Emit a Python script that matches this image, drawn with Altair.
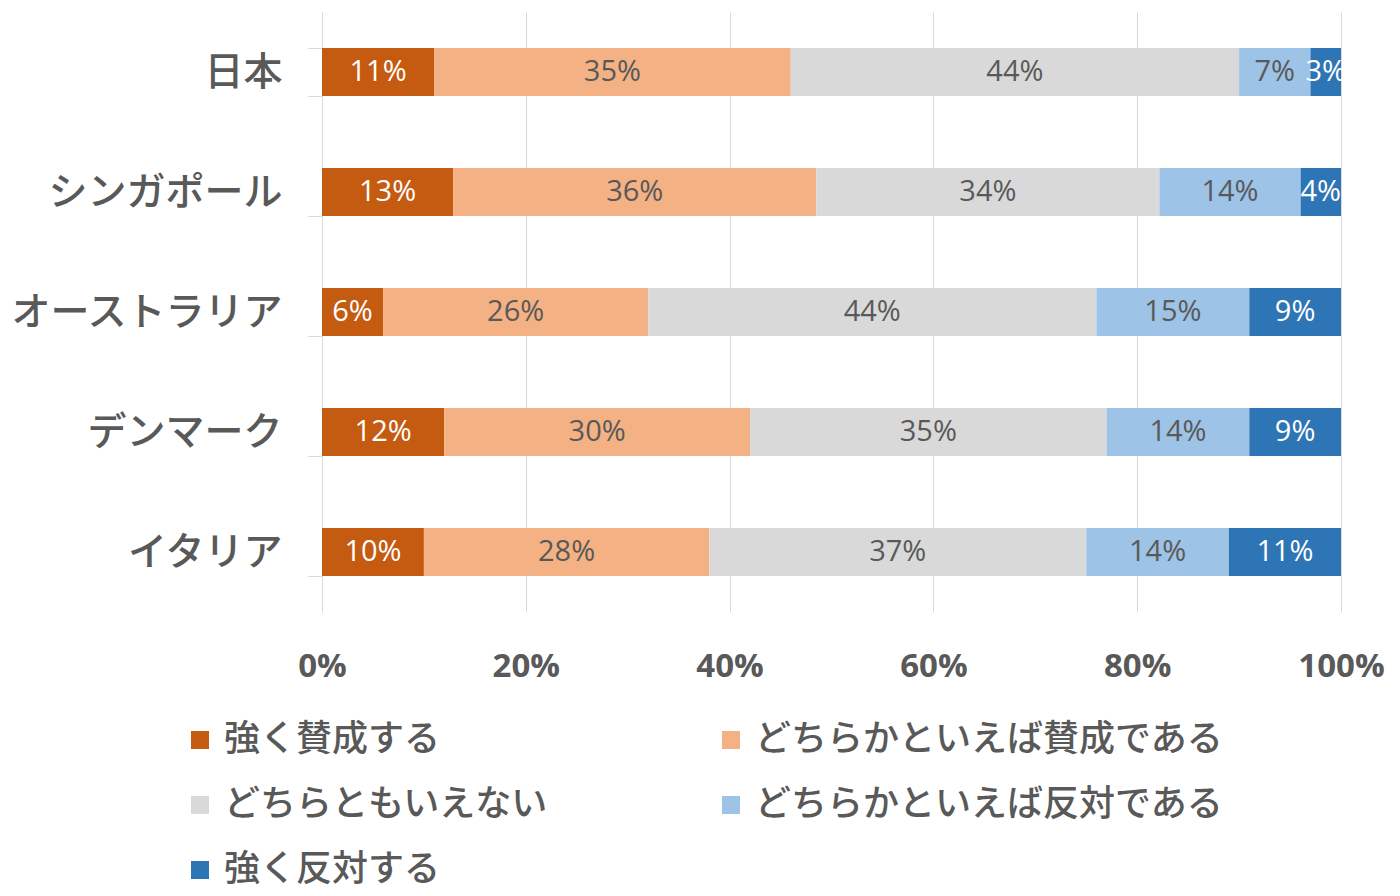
import altair as alt
import pandas as pd

countries = ["日本", "シンガポール", "オーストラリア", "デンマーク", "イタリア"]
categories = ["強く賛成する", "どちらかといえば賛成である", "どちらともいえない",
              "どちらかといえば反対である", "強く反対する"]
colors = ["#C55A11", "#F4B183", "#D9D9D9", "#9DC3E6", "#2E75B6"]
legend_order = ["強く賛成する", "どちらともいえない", "強く反対する",
                "どちらかといえば賛成である", "どちらかといえば反対である"]

values = {
    "日本": [11, 35, 44, 7, 3],
    "シンガポール": [13, 36, 34, 14, 4],
    "オーストラリア": [6, 26, 44, 15, 9],
    "デンマーク": [12, 30, 35, 14, 9],
    "イタリア": [10, 28, 37, 14, 11],
}

rows = []
for c in countries:
    for i, cat in enumerate(categories):
        rows.append({"country": c, "cat": cat, "order": i, "value": values[c][i]})
df = pd.DataFrame(rows)

JP = "Noto Sans CJK JP"
GRAY = "#595959"

base = alt.Chart(df).transform_stack(
    stack="value", as_=["x0", "x1"], groupby=["country"],
    sort=[alt.SortField("order", order="ascending")], offset="normalize"
).transform_calculate(mid="(datum.x0 + datum.x1) / 2", label="datum.value + '%'")

y_scale = alt.Scale(paddingInner=0.6, paddingOuter=0.3)

bars = base.mark_bar().encode(
    x=alt.X("x0:Q", title=None, scale=alt.Scale(domain=[0, 1]),
            axis=alt.Axis(format="%", values=[0, 0.2, 0.4, 0.6, 0.8, 1.0], grid=True,
                          gridColor="#D9D9D9", domain=False, ticks=False, labelFlush=False,
                          labelFont="Open Sans", labelFontWeight="bold", labelFontSize=33,
                          labelColor=GRAY, labelPadding=38)),
    x2="x1:Q",
    y=alt.Y("country:N", sort=countries, title=None, scale=y_scale,
            axis=alt.Axis(labelFont=JP, labelFontSize=39, labelFontWeight=500,
                          labelColor=GRAY, labelLimit=400,
                          labelPadding=26, domainColor="#D9D9D9", tickColor="#D9D9D9",
                          tickSize=14, tickBand="extent", grid=False)),
    color=alt.Color("cat:N", sort=categories, title=None,
                    scale=alt.Scale(domain=categories, range=colors),
                    legend=alt.Legend(orient="none", legendX=-140, legendY=710, columns=2,
                                      values=legend_order,
                                      columnPadding=164, rowPadding=29,
                                      labelFont=JP, labelFontSize=36, labelFontWeight=500,
                                      labelColor=GRAY,
                                      symbolType="square", symbolSize=324, symbolStrokeWidth=0,
                                      labelOffset=6, labelLimit=600)),
)

texts = base.mark_text(font="Open Sans", fontSize=29, baseline="middle").encode(
    x="mid:Q",
    y=alt.Y("country:N", sort=countries),
    text="label:N",
    color=alt.condition("datum.order == 0 || datum.order == 4",
                        alt.value("white"), alt.value(GRAY)),
)

chart = alt.layer(bars, texts).properties(
    width=1019, height=600,
    autosize=alt.AutoSizeParams(type="none"),
    padding={"left": 322, "top": 12, "right": 59, "bottom": 284},
    background="white",
).configure_view(stroke=None)

chart.save("out.html", embed_options={"renderer": "svg", "actions": False})
